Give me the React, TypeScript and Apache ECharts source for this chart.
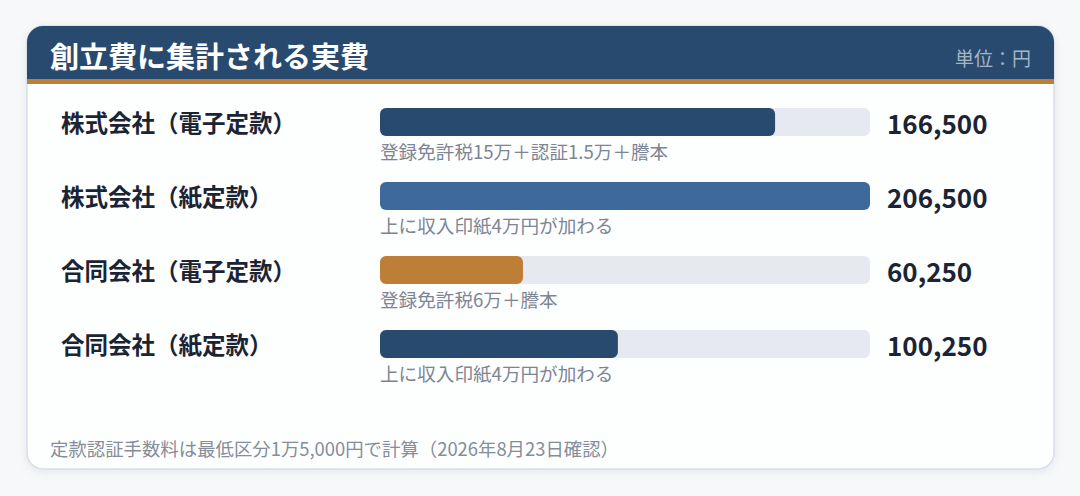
import React, { useEffect, useRef } from "react";
import * as echarts from "echarts";

const TITLE = "創立費に集計される実費";
const UNIT = "単位：円";
const FOOTNOTE = "定款認証手数料は最低区分1万5,000円で計算（2026年8月23日確認）";

const categories = [
    "株式会社（電子定款）",
    "株式会社（紙定款）",
    "合同会社（電子定款）",
    "合同会社（紙定款）",
];
const values = [166500, 206500, 60250, 100250];
const notes = [
    "登録免許税15万＋認証1.5万＋謄本",
    "上に収入印紙4万円が加わる",
    "登録免許税6万＋謄本",
    "上に収入印紙4万円が加わる",
];
const barColors = ["#284a6f", "#3d6a9b", "#bd7e35", "#284a6f"];

const FONT = '"Noto Sans CJK JP", "Noto Sans", sans-serif';
const INK = "#1b2434";

export default function App() {
    const ref = useRef<HTMLDivElement | null>(null);

    useEffect(() => {
        document.body.style.margin = "0";
        if (!ref.current) return;
        const inst = echarts.init(ref.current, undefined, { renderer: "svg" });
        const maxVal = Math.max(...values);

        inst.setOption({
            animation: false,
            backgroundColor: "#f6f8fa",
            textStyle: { fontFamily: FONT },
            graphic: [
                {
                    type: "rect",
                    z: -10,
                    shape: { x: 27, y: 26, width: 1027, height: 443, r: 16 },
                    style: {
                        fill: "#fdfefe",
                        stroke: "#d6dde9",
                        lineWidth: 1.5,
                        shadowBlur: 8,
                        shadowColor: "rgba(30,50,90,0.08)",
                        shadowOffsetY: 2,
                    },
                },
                {
                    type: "rect",
                    z: -9,
                    shape: { x: 27, y: 26, width: 1027, height: 53, r: [16, 16, 0, 0] },
                    style: { fill: "#284a6f" },
                },
                {
                    type: "rect",
                    z: -9,
                    shape: { x: 27, y: 79, width: 1027, height: 5 },
                    style: { fill: "#bd7e35" },
                },
                {
                    type: "text",
                    x: 50,
                    y: 55,
                    style: {
                        text: TITLE,
                        fill: "#ffffff",
                        font: `bold 29px ${FONT}`,
                        verticalAlign: "middle",
                    },
                },
                {
                    type: "text",
                    x: 1031,
                    y: 57,
                    style: {
                        text: UNIT,
                        fill: "#a7b4c6",
                        font: `19px ${FONT}`,
                        align: "right",
                        verticalAlign: "middle",
                    },
                },
                {
                    type: "text",
                    x: 50,
                    y: 448,
                    style: {
                        text: FOOTNOTE,
                        fill: "#868d9a",
                        font: `18.4px ${FONT}`,
                        verticalAlign: "middle",
                    },
                },
            ],
            grid: { left: 380, width: 490, top: 85, height: 296 },
            xAxis: {
                type: "value",
                min: 0,
                max: maxVal,
                show: false,
            },
            yAxis: {
                type: "category",
                inverse: true,
                data: categories,
                axisLine: { show: false },
                axisTick: { show: false },
                axisLabel: {
                    align: "left",
                    margin: 319,
                    color: INK,
                    fontSize: 23.5,
                    fontWeight: "bold",
                    fontFamily: FONT,
                    padding: [0, 0, 2, 0],
                },
            },
            series: [
                {
                    type: "bar",
                    barWidth: 28,
                    data: values.map((v, i) => ({
                        value: v,
                        itemStyle: { color: barColors[i] },
                    })),
                    itemStyle: { borderRadius: 6 },
                    showBackground: true,
                    backgroundStyle: { color: "#e6e9ef", borderRadius: 6 },
                    label: { show: false },
                    z: 2,
                },
                {
                    type: "bar",
                    barWidth: 28,
                    barGap: "-100%",
                    data: values.map(() => maxVal),
                    itemStyle: { color: "transparent" },
                    silent: true,
                    z: 1,
                    label: {
                        show: true,
                        position: [0, 42],
                        align: "left",
                        verticalAlign: "middle",
                        color: "#7d8595",
                        fontSize: 18.6,
                        fontFamily: FONT,
                        formatter: (p: any) => notes[p.dataIndex],
                    },
                },
                {
                    type: "bar",
                    barWidth: 28,
                    barGap: "-100%",
                    data: values.map(() => maxVal),
                    itemStyle: { color: "transparent" },
                    silent: true,
                    z: 1,
                    label: {
                        show: true,
                        position: "right",
                        distance: 17,
                        color: INK,
                        fontSize: 26,
                        fontWeight: "bold",
                        fontFamily: FONT,
                        formatter: (p: any) => values[p.dataIndex].toLocaleString("en-US"),
                    },
                },
            ],
        });

        return () => inst.dispose();
    }, []);

    return <div ref={ref} style={{ width: 1080, height: 496 }} />;
}
